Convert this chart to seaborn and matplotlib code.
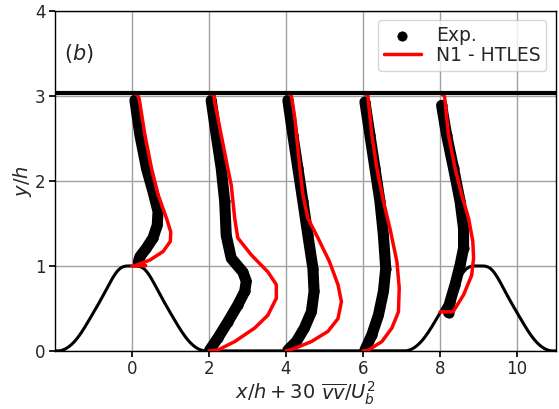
import numpy as np
import pandas as pd
import matplotlib
matplotlib.use("Agg")
import matplotlib.pyplot as plt
import seaborn as sns

# ---------------- data ----------------
stations = [0, 2, 4, 6, 8]

# experiment: wall-normal position y/h and horizontal offset 30*vv/Ub^2
exp_y_0 = [1.05, 1.11, 1.21, 1.33, 1.48, 1.64, 1.84, 2.15, 2.54, 2.95]
exp_v_0 = [0.17, 0.21, 0.38, 0.55, 0.66, 0.68, 0.57, 0.38, 0.21, 0.08]
exp_y_2 = [0.01, 0.15, 0.34, 0.54, 0.70, 0.82, 0.93, 1.09, 1.36, 1.76, 2.15, 2.54, 2.95]
exp_v_2 = [0.02, 0.23, 0.49, 0.75, 0.93, 0.97, 0.88, 0.58, 0.45, 0.41, 0.32, 0.19, 0.06]
exp_y_4 = [0.01, 0.11, 0.27, 0.46, 0.70, 0.97, 1.36, 1.76, 2.15, 2.54, 2.95]
exp_v_4 = [0.05, 0.27, 0.48, 0.66, 0.73, 0.70, 0.57, 0.44, 0.31, 0.18, 0.05]
exp_y_6 = [0.01, 0.19, 0.42, 0.70, 0.97, 1.36, 1.76, 2.15, 2.54, 2.93]
exp_v_6 = [0.05, 0.23, 0.40, 0.53, 0.59, 0.53, 0.44, 0.31, 0.18, 0.05]
exp_y_8 = [0.45, 0.58, 0.78, 1.01, 1.21, 1.44, 1.76, 2.15, 2.54, 2.89]
exp_v_8 = [0.22, 0.26, 0.39, 0.52, 0.61, 0.61, 0.52, 0.35, 0.17, 0.04]

# N1 - HTLES simulation
les_y_0 = [1.0, 1.004, 1.012, 1.07, 1.17, 1.29, 1.40, 1.56, 1.84, 2.15, 2.54, 2.97, 3.01, 3.035]
les_v_0 = [0.0, 0.36, 0.12, 0.47, 0.81, 1.00, 1.01, 0.90, 0.68, 0.51, 0.34, 0.19, 0.15, 0.03]
les_y_2 = [0.0, 0.01, 0.11, 0.27, 0.42, 0.62, 0.78, 0.93, 1.13, 1.33, 1.56, 1.95, 2.15, 2.54, 2.93, 3.0, 3.035]
les_v_2 = [0.0, 0.23, 0.67, 1.19, 1.53, 1.75, 1.75, 1.53, 1.10, 0.75, 0.67, 0.58, 0.49, 0.32, 0.15, 0.14, 0.0]
les_y_4 = [0.0, 0.03, 0.11, 0.23, 0.38, 0.58, 0.78, 1.05, 1.33, 1.56, 1.84, 2.15, 2.74, 2.98, 3.01, 3.035]
les_v_4 = [0.0, 0.23, 0.66, 1.09, 1.35, 1.44, 1.35, 1.13, 0.83, 0.57, 0.44, 0.36, 0.23, 0.15, 0.13, 0.0]
les_y_6 = [0.0, 0.01, 0.11, 0.27, 0.46, 0.74, 1.05, 1.44, 1.76, 2.15, 2.54, 2.98, 3.01, 3.035]
les_v_6 = [0.0, 0.14, 0.49, 0.75, 0.92, 0.94, 0.88, 0.70, 0.53, 0.36, 0.23, 0.13, 0.13, 0.0]
les_y_8 = [0.46, 0.46, 0.47, 0.66, 0.89, 1.09, 1.29, 1.56, 1.84, 2.15, 2.54, 2.98, 3.01, 3.035]
les_v_8 = [0.0, 0.30, 0.35, 0.61, 0.82, 0.87, 0.85, 0.74, 0.56, 0.39, 0.22, 0.12, 0.10, 0.0]

exp_y = [exp_y_0, exp_y_2, exp_y_4, exp_y_6, exp_y_8]
exp_v = [exp_v_0, exp_v_2, exp_v_4, exp_v_6, exp_v_8]
les_y = [les_y_0, les_y_2, les_y_4, les_y_6, les_y_8]
les_v = [les_v_0, les_v_2, les_v_4, les_v_6, les_v_8]

x_ticks = [0, 2, 4, 6, 8, 10]
y_ticks = [0, 1, 2, 3, 4]
top_wall = 3.035

# periodic-hill geometry (standard ERCOFTAC polynomial, mm, h = 28 mm)
hill_breaks = [0, 9, 14, 20, 30, 40, 54]
hill_coefs = [
    [28.0, 0.0, 6.775070969851e-3, -2.124527775800e-3],
    [25.07355893131, 0.9754803562315, -0.1016116352781, 1.889794677828e-3],
    [25.79601052357, 0.8206693007457, -0.09055370274339, 1.626510569859e-3],
    [40.46435022819, -1.379581654948, 0.019458845041284, -2.070318932190e-4],
    [17.92461334664, 0.8743920332081, -0.05567361123058, 6.277731764683e-4],
    [56.39011190988, -2.010520359035, 0.01644919857549, 2.674976141766e-5],
]


def hill(xh):
    d = np.minimum(np.abs(xh), np.abs(xh - 9.0)) * 28.0
    out = np.zeros_like(d)
    for i, c in enumerate(hill_coefs):
        m = (d >= hill_breaks[i]) & (d < hill_breaks[i + 1])
        dd = d[m]
        out[m] = c[0] + c[1] * dd + c[2] * dd ** 2 + c[3] * dd ** 3
    out = np.clip(out, 0, 28.0)
    return out / 28.0


# ---------------- figure ----------------
sns.set_theme(style="whitegrid")
plt.rcParams["font.family"] = ["DejaVu Sans"]
plt.rcParams["mathtext.fontset"] = "dejavusans"

fig = plt.figure(figsize=(5.59, 4.09), dpi=100)
ax = fig.add_axes([0.098, 0.142, 0.896, 0.831])

xs = np.linspace(-2, 11, 600)
sns.lineplot(x=xs, y=hill(xs), color="black", lw=2.2, ax=ax, zorder=3)

for k, x0 in enumerate(stations):
    ex = x0 + np.array(exp_v[k])
    ey = np.array(exp_y[k])
    sns.lineplot(x=ex, y=ey, sort=False, estimator=None, color="black",
                 lw=8, solid_capstyle="round", ax=ax, zorder=4)
    sns.scatterplot(x=ex, y=ey, color="black", s=45, edgecolor="black",
                    ax=ax, zorder=4, label="Exp." if k == 0 else None)

for k, x0 in enumerate(stations):
    lx = x0 + np.array(les_v[k])
    ly = np.array(les_y[k])
    sns.lineplot(x=lx, y=ly, sort=False, estimator=None, color="red",
                 lw=2.5, ax=ax, zorder=5,
                 label="N1 - HTLES" if k == 0 else None)

ax.axhline(top_wall, color="black", lw=3, zorder=6)

ax.set_xlim(-2, 11)
ax.set_ylim(0, 4)
ax.set_xticks(x_ticks)
ax.set_yticks(y_ticks)
ax.tick_params(labelsize=12, length=4, color="black", direction="out",
               bottom=True, left=True, pad=2.5)
ax.grid(True, color="#a0a0a0", lw=1.0)
for s in ax.spines.values():
    s.set_color("black")
    s.set_linewidth(1.0)

ax.set_xlabel(r"$x/h + 30\ \overline{vv}/U_b^2$", fontsize=14, labelpad=1)
ax.set_ylabel(r"$y/h$", fontsize=14, labelpad=1)
ax.text(-1.75, 3.42, r"$(b)$", fontsize=15)

leg = ax.legend(loc="upper right", fontsize=13.5, frameon=True, framealpha=0.8,
                handlelength=2.0, borderpad=0.3, labelspacing=0.05,
                handletextpad=0.8, borderaxespad=0.5)
leg.get_frame().set_edgecolor("#cccccc")

fig.savefig("out.png", dpi=100)
